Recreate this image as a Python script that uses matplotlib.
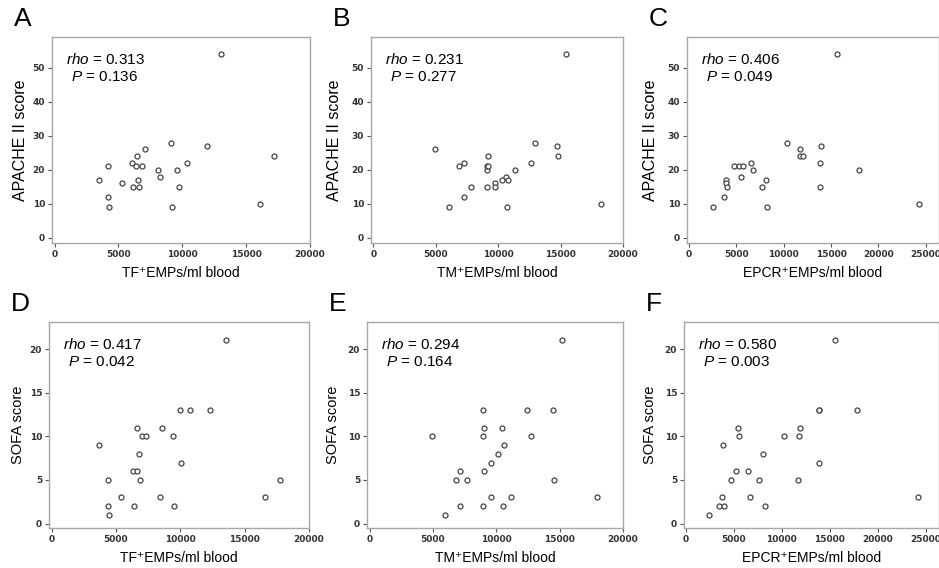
import numpy as np
import matplotlib
matplotlib.use('Agg')
import matplotlib.pyplot as plt

plt.rcParams['font.family'] = ['Liberation Sans', 'DejaVu Sans']
plt.rcParams['mathtext.fontset'] = 'custom'
plt.rcParams['mathtext.it'] = 'Liberation Sans:italic'
plt.rcParams['mathtext.rm'] = 'Liberation Sans'

# ---------- data ----------
tf_apache_x = [3450, 4200, 4200, 4300, 5260, 6100, 6160, 6340, 6420, 6570, 6600, 6860,
               7090, 8120, 8250, 9100, 9180, 9610, 9720, 10390, 11930, 13070, 16080, 17220]
tf_apache_y = [17, 21, 12, 9, 16, 22, 15, 21, 24, 17, 15, 21,
               26, 20, 18, 28, 9, 20, 15, 22, 27, 54, 10, 24]

tm_apache_x = [4960, 6080, 6830, 7230, 7250, 7810, 9070, 9090, 9200, 9200, 9070, 9700,
               9730, 10270, 10640, 10750, 10670, 11330, 12590, 12930, 14720, 14800, 15470, 18240]
tm_apache_y = [26, 9, 21, 22, 12, 15, 20, 21, 21, 24, 15, 16,
               15, 17, 18, 17, 9, 20, 22, 28, 27, 24, 54, 10]

epcr_apache_x = [2550, 3660, 3930, 3930, 4000, 4760, 5310, 5660, 5480, 6590, 6760, 7690,
                 8140, 8280, 10340, 11760, 11690, 12070, 13790, 13930, 13860, 15620, 17930, 24240]
epcr_apache_y = [9, 12, 17, 16, 15, 21, 21, 21, 18, 22, 20, 15,
                 17, 9, 28, 26, 24, 24, 22, 27, 15, 54, 20, 10]

tf_sofa_x = [3700, 4390, 4390, 4440, 5400, 6320, 6400, 6600, 6630, 6760, 6840, 7050,
             7360, 8430, 8560, 9450, 9530, 9970, 10050, 10730, 12300, 13520, 16580, 17780]
tf_sofa_y = [9, 5, 2, 1, 3, 6, 2, 6, 11, 8, 5, 10,
             10, 3, 11, 10, 2, 13, 7, 13, 13, 21, 3, 5]

tm_sofa_x = [4940, 5990, 6790, 7120, 7150, 7690, 8950, 9050, 8950, 9050, 8950, 9560,
             9590, 10130, 10460, 10590, 10540, 11180, 12390, 12720, 14470, 14580, 15170, 17920]
tm_sofa_y = [10, 1, 5, 6, 2, 5, 13, 11, 10, 6, 2, 3,
             7, 8, 11, 9, 2, 3, 13, 10, 13, 5, 21, 3]

epcr_sofa_x = [2400, 3490, 3800, 3940, 3870, 4690, 5240, 5410, 5580, 6510, 6710, 7600,
               8050, 8220, 10270, 11640, 11780, 11950, 13840, 13900, 13840, 15550, 17880, 24250]
epcr_sofa_y = [1, 2, 3, 2, 9, 5, 6, 11, 10, 6, 3, 5,
               8, 2, 10, 5, 10, 11, 13, 13, 7, 21, 13, 3]

letters = ['A', 'B', 'C', 'D', 'E', 'F']
xlabels = ['TF\u207aEMPs/ml blood', 'TM\u207aEMPs/ml blood', 'EPCR\u207aEMPs/ml blood'] * 2
ylabels = ['APACHE II score'] * 3 + ['SOFA score'] * 3
rhos = ['0.313', '0.231', '0.406', '0.417', '0.294', '0.580']
pvals = ['0.136', '0.277', '0.049', '0.042', '0.164', '0.003']

xs = [tf_apache_x, tm_apache_x, epcr_apache_x, tf_sofa_x, tm_sofa_x, epcr_sofa_x]
ys = [tf_apache_y, tm_apache_y, epcr_apache_y, tf_sofa_y, tm_sofa_y, epcr_sofa_y]

# ---------- layout (pixels: left, right, top, bottom) ----------
W, H = 939, 568
boxes = [(52, 310, 37, 243), (371, 623, 37, 243), (687, 939, 37, 243),
         (49, 309, 322, 528), (367, 623, 322, 528), (684, 939, 322, 528)]
ylab_x = [-0.093, -0.115, -0.115, -0.092, -0.105, -0.106]
ylab_size = [11.5] * 3 + [10.5] * 3
xlims = [(-200, 20000), (-200, 20000), (-200, 26400)] * 2
xticks = [[0, 5000, 10000, 15000, 20000]] * 2 + [[0, 5000, 10000, 15000, 20000, 25000]]
xticks = xticks * 2
ylims = [(-1.5, 59)] * 3 + [(-0.5, 23.1)] * 3
yticks = [[0, 10, 20, 30, 40, 50]] * 3 + [[0, 5, 10, 15, 20]] * 3

fig = plt.figure(figsize=(W / 100, H / 100), dpi=100)

for i in range(6):
    l, r, t, b = boxes[i]
    ax = fig.add_axes([l / W, 1 - b / H, (r - l) / W, (b - t) / H])
    ax.scatter(xs[i], ys[i], s=13, facecolors='white', edgecolors='#444444',
               linewidths=0.9, zorder=3)
    ax.set_xlim(*xlims[i])
    ax.set_ylim(*ylims[i])
    ax.set_xticks(xticks[i])
    ax.set_yticks(yticks[i])
    for s in ax.spines.values():
        s.set_color('#a8a8a8')
        s.set_linewidth(1.0)
    ax.tick_params(direction='out', length=3, width=0.8, color='#555555',
                   labelsize=6.5, pad=2)
    for lab in ax.get_xticklabels() + ax.get_yticklabels():
        lab.set_fontfamily('DejaVu Sans')
        lab.set_fontweight('bold')
        lab.set_color('#333333')

    ax.set_xlabel(xlabels[i], fontsize=10)
    ax.xaxis.set_label_coords(0.5, -0.11)
    ax.set_ylabel(ylabels[i], fontsize=ylab_size[i])
    ax.yaxis.set_label_coords(ylab_x[i], 0.5)

    ax.text(0.055, 0.89, r'$\mathit{rho}$ = ' + rhos[i], transform=ax.transAxes,
            fontsize=11, va='center', ha='left')
    ax.text(0.075, 0.805, r'$\mathit{P}$ = ' + pvals[i], transform=ax.transAxes,
            fontsize=11, va='center', ha='left')

    fig.text((l - 38) / W, 1 - (t - 18) / H, letters[i], fontsize=19,
             va='center', ha='left')

fig.savefig('out.png', dpi=100)
